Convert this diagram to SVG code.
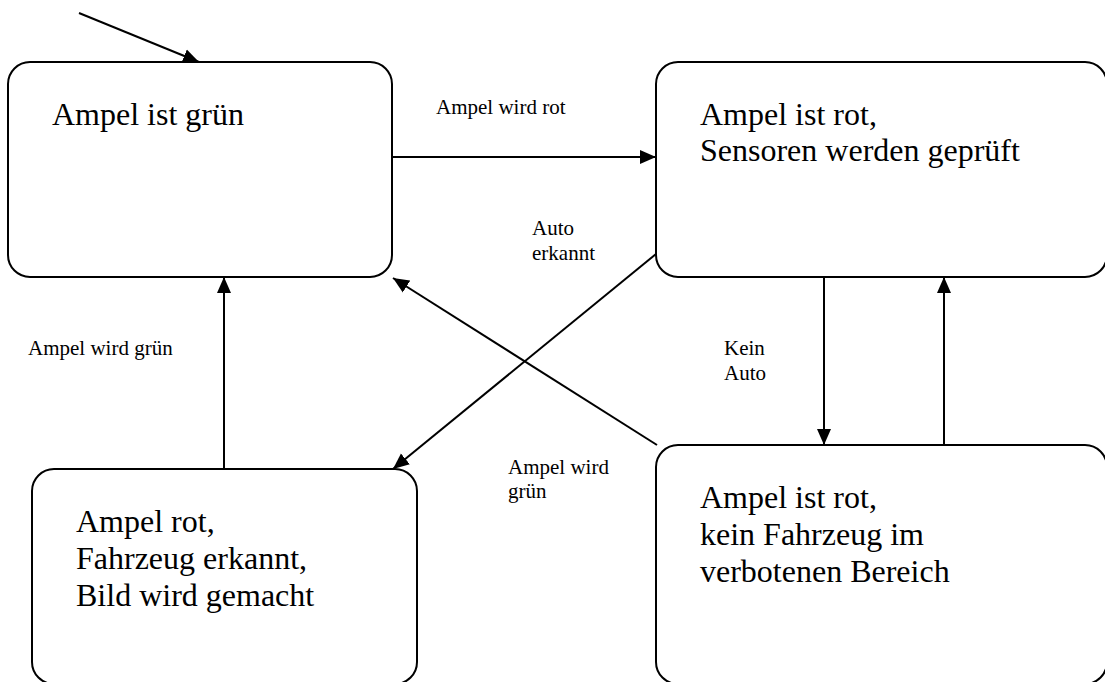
<svg xmlns="http://www.w3.org/2000/svg" width="1105" height="682" viewBox="0 0 1105 682">
<style>
.box{fill:#fff;stroke:#000;stroke-width:2}
.big{font-family:"Liberation Serif","Times New Roman",serif;font-size:32px;fill:#000}
.sm{font-family:"Liberation Serif","Times New Roman",serif;font-size:21px;fill:#000}
.c{stroke:#000;stroke-width:2;fill:none;marker-end:url(#ah)}
</style>
<defs>
<marker id="ah" markerUnits="userSpaceOnUse" markerWidth="16" markerHeight="16" viewBox="0 0 16 16" refX="16" refY="8" orient="auto">
<path d="M0,1 L16,8 L0,15 Z" fill="#000"/>
</marker>
</defs>
<rect width="1105" height="682" fill="#fff"/>
<g id="n1">
<rect class="box" x="8" y="62" width="384" height="215" rx="22"/>
<text class="big" x="52" y="125">Ampel ist grün</text>
</g>
<g id="n2">
<rect class="box" x="656" y="62" width="451" height="215" rx="22"/>
<text class="big" x="700" y="125">Ampel ist rot,</text>
<text class="big" x="700" y="161">Sensoren werden geprüft</text>
</g>
<g id="n3">
<rect class="box" x="656" y="445" width="451" height="239" rx="22"/>
<text class="big" x="700" y="508">Ampel ist rot,</text>
<text class="big" x="700" y="545">kein Fahrzeug im</text>
<text class="big" x="700" y="582">verbotenen Bereich</text>
</g>
<g id="n4">
<rect class="box" x="32" y="469" width="385" height="215" rx="22"/>
<text class="big" x="76" y="532">Ampel rot,</text>
<text class="big" x="76" y="569">Fahrzeug erkannt,</text>
<text class="big" x="76" y="606">Bild wird gemacht</text>
</g>
<g id="connectors">
<line class="c" x1="79" y1="13" x2="199" y2="62"/>
<line class="c" x1="392" y1="157" x2="656" y2="157"/>
<line class="c" x1="656" y1="254" x2="393" y2="469"/>
<line class="c" x1="657" y1="445" x2="393" y2="278"/>
<line class="c" x1="224" y1="469" x2="224" y2="277"/>
<line class="c" x1="824" y1="277" x2="824" y2="445"/>
<line class="c" x1="944" y1="445" x2="944" y2="277"/>
<text class="sm" x="436" y="114">Ampel wird rot</text>
<text class="sm" x="532" y="235">Auto</text>
<text class="sm" x="532" y="260">erkannt</text>
<text class="sm" x="28" y="355">Ampel wird grün</text>
<text class="sm" x="724" y="355">Kein</text>
<text class="sm" x="724" y="380">Auto</text>
<text class="sm" x="508" y="474">Ampel wird</text>
<text class="sm" x="508" y="498">grün</text>
</g>
</svg>
